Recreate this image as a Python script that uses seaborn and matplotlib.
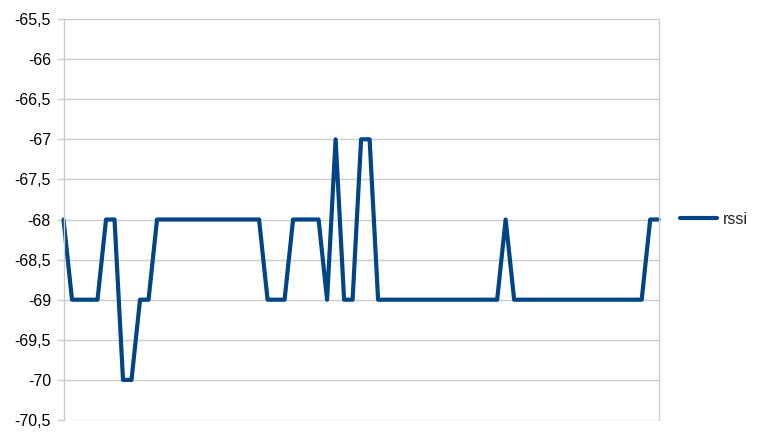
import matplotlib
matplotlib.use("Agg")
import matplotlib.pyplot as plt
from matplotlib.ticker import FuncFormatter, MultipleLocator
import seaborn as sns
import pandas as pd

# rssi samples
rssi = [-68,
        -69, -69, -69, -69,
        -68, -68,
        -70, -70,
        -69, -69,
        -68, -68, -68, -68, -68, -68, -68, -68, -68, -68, -68, -68, -68,
        -69, -69, -69,
        -68, -68, -68, -68,
        -69,
        -67,
        -69, -69,
        -67, -67,
        -69, -69, -69, -69, -69, -69, -69, -69, -69, -69, -69, -69, -69, -69, -69,
        -68,
        -69, -69, -69, -69, -69, -69, -69, -69, -69, -69, -69, -69, -69, -69, -69, -69,
        -68, -68]
sample = list(range(len(rssi)))

df = pd.DataFrame({"sample": sample, "rssi": rssi})

sns.set_style("white")
plt.rcParams['font.family'] = ['Liberation Sans', 'DejaVu Sans']

fig = plt.figure(figsize=(7.68, 4.46), dpi=100)
ax = fig.add_axes([63.5 / 768, 1 - 420 / 446, (658.7 - 63.5) / 768, (420 - 19) / 446])

sns.lineplot(data=df, x="sample", y="rssi", ax=ax, color="#004586", linewidth=3.0,
             label="rssi", clip_on=False)

ax.set_xlim(0, len(rssi) - 1)
ax.set_ylim(-70.5, -65.5)
ax.yaxis.set_major_locator(MultipleLocator(0.5))
ax.yaxis.set_major_formatter(FuncFormatter(lambda v, p: ("%g" % v).replace(".", ",")))
ax.grid(axis="y", color="#cccccc", linewidth=1)
ax.set_xticks([])
ax.set_xlabel("")
ax.set_ylabel("")

for side in ["top", "bottom"]:
    ax.spines[side].set_visible(False)
for side in ["left", "right"]:
    ax.spines[side].set_color("#cccccc")
    ax.spines[side].set_linewidth(1)

ax.tick_params(axis="y", which="major", left=True, length=5, width=1, color="#cccccc",
               labelsize=11.5, pad=4, labelcolor="#000000")

leg = ax.legend(loc="center left", bbox_to_anchor=(1.012, 0.5), frameon=False,
                fontsize=11.5, handlelength=2.3, handletextpad=0.4)

fig.savefig("out.png", dpi=100)
